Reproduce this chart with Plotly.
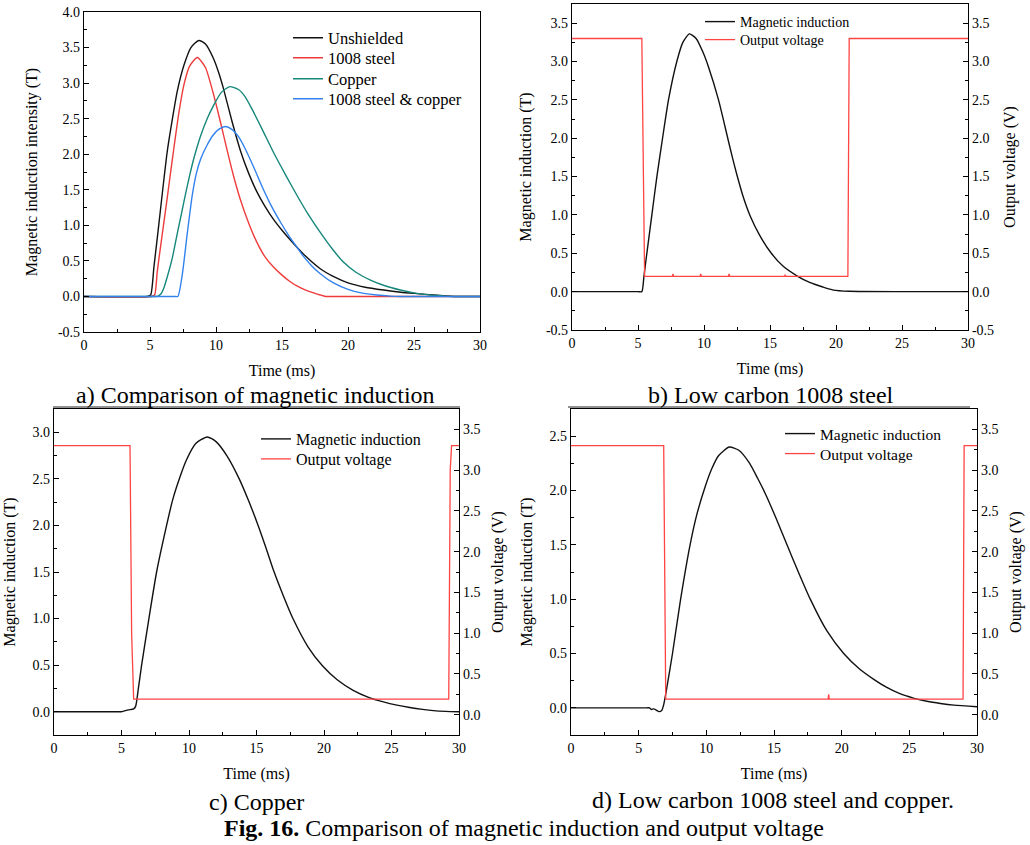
import plotly.graph_objects as go

W, H = 1030, 845
FONT = "Liberation Serif"

# ---------------- data ----------------
# Panel a: comparison of magnetic induction (T) vs time (ms)
a_unsh_t = [0, 4.8, 5.05, 5.3, 5.6, 6.0, 6.3, 6.7, 7.06, 7.57, 8.1, 8.7, 9.2, 9.8, 10.2, 10.54, 11.2, 11.85, 12.5, 13.1, 13.7, 14.37, 15.0, 15.6, 16.6, 17.9, 19.0, 20.0, 21.3, 22.7, 24.0, 25.2, 26.5, 28.0, 30]
a_unsh_v = [0, 0, 0.02, 0.42, 0.9, 1.56, 2.03, 2.5, 2.88, 3.25, 3.5, 3.6, 3.55, 3.35, 3.15, 2.94, 2.47, 2.05, 1.72, 1.47, 1.27, 1.08, 0.93, 0.8, 0.6, 0.39, 0.27, 0.19, 0.13, 0.09, 0.06, 0.04, 0.02, 0.0, 0.0]
a_steel_t = [0, 5.1, 5.35, 5.55, 5.8, 6.3, 6.76, 7.2, 7.6, 8.0, 8.58, 9.2, 9.8, 10.34, 10.85, 11.35, 11.85, 12.5, 13.1, 13.7, 14.37, 15.0, 15.6, 16.2, 16.8, 17.4, 17.9, 18.3, 19.0, 30]
a_steel_v = [0, 0, 0.02, 0.35, 0.7, 1.38, 2.02, 2.6, 3.0, 3.24, 3.36, 3.22, 2.85, 2.45, 2.05, 1.68, 1.36, 1.02, 0.76, 0.56, 0.41, 0.3, 0.21, 0.14, 0.09, 0.05, 0.02, 0.0, 0.0, 0.0]
a_cu_t = [0, 5.3, 5.55, 5.8, 6.05, 6.3, 6.7, 7.06, 7.4, 7.69, 8.0, 8.32, 8.8, 9.33, 9.8, 10.4, 11.04, 11.7, 12.2, 12.74, 13.5, 14.37, 15.3, 16.14, 17.0, 17.9, 18.8, 19.67, 20.6, 21.7, 22.8, 23.96, 25.0, 26.0, 27.0, 27.8, 30]
a_cu_v = [0, 0, 0.0, 0.03, 0.12, 0.27, 0.55, 0.88, 1.18, 1.44, 1.7, 1.94, 2.24, 2.5, 2.68, 2.87, 2.95, 2.91, 2.81, 2.63, 2.35, 2.02, 1.7, 1.42, 1.15, 0.9, 0.67, 0.48, 0.34, 0.23, 0.15, 0.09, 0.05, 0.025, 0.01, 0.0, 0.0]
a_both_t = [0, 6.8, 7.11, 7.44, 7.82, 8.2, 8.5, 8.83, 9.33, 9.79, 10.2, 10.72, 11.2, 11.73, 12.23, 12.9, 13.6, 14.2, 14.9, 15.5, 16.1, 16.6, 17.2, 17.9, 18.9, 20.0, 21.0, 22.2, 23.2, 24.0, 30]
a_both_v = [0, 0, 0.0, 0.3, 0.88, 1.42, 1.72, 1.93, 2.13, 2.27, 2.35, 2.39, 2.35, 2.24, 2.07, 1.8, 1.5, 1.27, 1.04, 0.86, 0.7, 0.57, 0.44, 0.32, 0.19, 0.1, 0.05, 0.02, 0.005, 0.0, 0.0]

# Panel b: low carbon 1008 steel
b_mag_t = [0, 5.0, 5.29, 5.45, 5.67, 6.05, 6.43, 6.86, 7.31, 7.94, 8.4, 8.9, 9.4, 9.9, 10.34, 11.1, 11.8, 12.15, 12.48, 13.0, 13.49, 14.2, 15.1, 16.0, 17.1, 18.0, 19.0, 19.8, 21.0, 25.0, 30]
b_mag_v = [0, 0, 0.0, 0.2, 0.5, 1.0, 1.5, 2.0, 2.5, 3.0, 3.25, 3.36, 3.3, 3.13, 2.93, 2.5, 2.0, 1.75, 1.53, 1.22, 0.99, 0.74, 0.5, 0.33, 0.2, 0.12, 0.06, 0.02, 0.005, 0.0, 0.0]
b_volt_t = [0, 5.29, 5.5, 7.6, 7.65, 7.7, 9.7, 9.75, 9.8, 11.85, 11.9, 11.95, 16.1, 16.15, 16.2, 20.9, 21.0, 30]
b_volt_v = [3.3, 3.3, 0.2, 0.2, 0.23, 0.2, 0.2, 0.23, 0.2, 0.2, 0.23, 0.2, 0.2, 0.22, 0.2, 0.2, 3.3, 3.3]

# Panel c: copper
c_mag_t = [0, 4.8, 5.0, 5.5, 5.9, 6.05, 6.25, 6.49, 7.03, 7.6, 8.34, 8.8, 9.33, 9.8, 10.5, 11.35, 12.0, 12.8, 13.72, 14.4, 15.12, 15.7, 16.28, 17.0, 17.7, 18.8, 19.9, 21.0, 22.16, 23.3, 24.4, 25.4, 26.35, 27.3, 28.1, 29.0, 30]
c_mag_v = [0, 0, 0.0, 0.02, 0.03, 0.06, 0.25, 0.5, 1.0, 1.5, 2.0, 2.28, 2.52, 2.7, 2.88, 2.95, 2.9, 2.75, 2.5, 2.27, 2.0, 1.76, 1.51, 1.24, 1.0, 0.7, 0.49, 0.34, 0.23, 0.155, 0.105, 0.07, 0.045, 0.025, 0.012, 0.004, 0.0]
c_volt_t = [0, 5.63, 5.75, 5.9, 29.24, 29.35, 29.45, 30]
c_volt_v = [3.3, 3.3, 1.0, 0.19, 0.19, 3.0, 3.3, 3.3]

# Panel d: low carbon 1008 steel and copper
d_mag_t = [0, 5.6, 5.8, 5.95, 6.1, 6.3, 6.5, 6.7, 6.85, 7.1, 7.5, 8.1, 8.8, 9.3, 9.9, 10.4, 10.9, 11.7, 12.4, 13.2, 13.8, 14.36, 15.1, 15.96, 16.8, 17.68, 18.9, 20.15, 21.3, 22.4, 23.3, 24.3, 25.3, 26.3, 27.3, 28.3, 30]
d_mag_v = [0, 0, 0, -0.015, -0.01, -0.02, -0.035, -0.025, 0.03, 0.2, 0.5, 1.0, 1.5, 1.78, 2.03, 2.2, 2.32, 2.4, 2.37, 2.25, 2.11, 1.97, 1.76, 1.5, 1.25, 1.0, 0.71, 0.5, 0.36, 0.26, 0.19, 0.13, 0.09, 0.06, 0.04, 0.025, 0.01]
d_volt_t = [0, 6.85, 7.0, 19.0, 19.04, 19.08, 28.97, 29.05, 30]
d_volt_v = [3.3, 3.3, 0.19, 0.19, 0.25, 0.19, 0.19, 3.3, 3.3]

x_ticks = [0, 5, 10, 15, 20, 25, 30]
x_minor = [2.5, 7.5, 12.5, 17.5, 22.5, 27.5]
ya_ticks = [-0.5, 0.0, 0.5, 1.0, 1.5, 2.0, 2.5, 3.0, 3.5, 4.0]
yb_ticks = [-0.5, 0.0, 0.5, 1.0, 1.5, 2.0, 2.5, 3.0, 3.5]
yc_ticks = [0.0, 0.5, 1.0, 1.5, 2.0, 2.5, 3.0]
yd_ticks = [0.0, 0.5, 1.0, 1.5, 2.0, 2.5]
yv_ticks = [0.0, 0.5, 1.0, 1.5, 2.0, 2.5, 3.0, 3.5]

C_BLACK = "#111111"
C_RED = "#ee3b3b"
C_TEAL = "#16877b"
C_BLUE = "#3282ee"
C_VOLT = "#ff4444"


def fmt(v):
    return "%.1f" % v


def minor_of(ticks, lo, hi):
    out = []
    v = lo
    while v <= hi + 1e-9:
        if all(abs(v - t) > 1e-6 for t in ticks):
            out.append(round(v, 3))
        v += 0.25
    return out


def px(x):
    return x / W


def py(y):
    return 1 - y / H


fig = go.Figure()

SPL = dict(shape="spline", smoothing=0.6, width=1.4)
LIN = dict(width=1.3)

# (x, y, name, colour, line style, xaxis, yaxis, legend id)
traces = [
    (a_unsh_t, a_unsh_v, "Unshielded", C_BLACK, SPL, "x", "y", "legend"),
    (a_steel_t, a_steel_v, "1008 steel", C_RED, SPL, "x", "y", "legend5"),
    (a_cu_t, a_cu_v, "Copper", C_TEAL, SPL, "x", "y", "legend6"),
    (a_both_t, a_both_v, "1008 steel & copper", C_BLUE, SPL, "x", "y", "legend7"),
    (b_volt_t, b_volt_v, "Output voltage", C_VOLT, LIN, "x2", "y3", "legend8"),
    (b_mag_t, b_mag_v, "Magnetic induction", C_BLACK, SPL, "x2", "y2", "legend2"),
    (c_volt_t, c_volt_v, "Output voltage", C_VOLT, LIN, "x3", "y5", "legend9"),
    (c_mag_t, c_mag_v, "Magnetic induction", C_BLACK, SPL, "x3", "y4", "legend3"),
    (d_volt_t, d_volt_v, "Output voltage", C_VOLT, LIN, "x4", "y7", "legend10"),
    (d_mag_t, d_mag_v, "Magnetic induction", C_BLACK, SPL, "x4", "y6", "legend4"),
]
for x, y, name, col, st, xa_, ya_, lg in traces:
    fig.add_trace(go.Scatter(x=x, y=y, mode="lines", name=name, line=dict(color=col, **st),
                             xaxis=xa_, yaxis=ya_, legend=lg))

AX = dict(showline=True, linecolor="black", linewidth=1.3, showgrid=False, zeroline=False,
          ticks="inside", ticklen=5, tickwidth=1, tickcolor="black",
          tickfont=dict(family=FONT, size=14, color="black"), automargin=False)
TFONT = dict(family=FONT, size=16, color="black")


def xax(dom, anchor):
    d = dict(AX)
    d.update(domain=dom, anchor=anchor, range=[0, 30], mirror=True,
             tickmode="array", tickvals=x_ticks, ticktext=[str(t) for t in x_ticks],
             minor=dict(tickmode="array", tickvals=x_minor, ticks="inside", ticklen=3, tickcolor="black"),
             title=dict(text="Time (ms)", font=TFONT, standoff=12))
    return d


def yax(dom, anchor, rng, ticks, title, side="left", overlay=None, mirror=True, standoff=12):
    d = dict(AX)
    d.update(domain=dom, anchor=anchor, range=rng, side=side, mirror=mirror,
             tickmode="array", tickvals=ticks, ticktext=[fmt(t) for t in ticks],
             minor=dict(tickmode="array", tickvals=minor_of(ticks, rng[0], rng[1]), ticks="inside",
                        ticklen=3, tickcolor="black"),
             title=dict(text=title, font=TFONT, standoff=standoff))
    if overlay:
        d["overlaying"] = overlay
    return d


xa = [px(84), px(480)]; ya = [py(332), py(12)]
xb = [px(572), px(968)]; yb = [py(330), py(4)]
xc = [px(54), px(459)]; yc = [py(735), py(409)]
xd = [px(571), px(977)]; yd = [py(735), py(409)]

fig.update_layout(
    width=W, height=H, margin=dict(l=0, r=0, t=0, b=0),
    paper_bgcolor="white", plot_bgcolor="white",
    font=dict(family=FONT, color="black"),
    xaxis=xax(xa, "y"),
    yaxis=yax(ya, "x", [-0.5, 4.0], ya_ticks, "Magnetic induction intensity (T)", standoff=16),
    xaxis2=xax(xb, "y2"),
    yaxis2=yax(yb, "x2", [-0.5, 3.75], yb_ticks, "Magnetic induction (T)", mirror=False, standoff=10),
    yaxis3=yax(yb, "x2", [-0.5, 3.75], yb_ticks, "Output voltage (V)", side="right", overlay="y2", mirror=False, standoff=10),
    xaxis3=xax(xc, "y4"),
    yaxis4=yax(yc, "x3", [-0.25, 3.25], yc_ticks, "Magnetic induction (T)", mirror=False, standoff=12),
    yaxis5=yax(yc, "x3", [-0.25, 3.75], yv_ticks, "Output voltage (V)", side="right", overlay="y4", mirror=False, standoff=12),
    xaxis4=xax(xd, "y6"),
    yaxis6=yax(yd, "x4", [-0.25, 2.75], yd_ticks, "Magnetic induction (T)", mirror=False, standoff=12),
    yaxis7=yax(yd, "x4", [-0.25, 3.75], yv_ticks, "Output voltage (V)", side="right", overlay="y6", mirror=False, standoff=12),
    showlegend=True,
)


def leg(xl, yc_, size):
    return dict(bgcolor="rgba(0,0,0,0)", borderwidth=0, xanchor="left", yanchor="middle",
                x=px(xl), y=py(yc_), font=dict(family=FONT, size=size, color="black"))


fig.update_layout(
    legend=leg(288, 38, 16.5), legend5=leg(288, 58, 16.5), legend6=leg(288, 79, 16.5), legend7=leg(288, 99, 16.5),
    legend2=leg(700, 22, 14), legend8=leg(700, 40, 14),
    legend3=leg(256, 439, 16), legend9=leg(256, 459, 16),
    legend4=leg(780, 434, 15.5), legend10=leg(780, 454, 15.5),
)

caps = [
    ("a) Comparison of magnetic induction", 255, 395),
    ("b) Low carbon 1008 steel", 771, 395),
    ("c) Copper", 256, 802),
    ("d) Low carbon 1008 steel and copper.", 773, 800),
    ("<b>Fig. 16.</b> Comparison of magnetic induction and output voltage", 524, 828),
]
for txt, cx, cy in caps:
    fig.add_annotation(text=txt, x=px(cx), y=py(cy), xref="paper", yref="paper",
                       xanchor="center", yanchor="middle", showarrow=False,
                       font=dict(family=FONT, size=24, color="black"))

for x0, x1 in [(53, 460), (568, 970)]:
    fig.add_shape(type="line", xref="paper", yref="paper", x0=px(x0), x1=px(x1), y0=py(407), y1=py(407),
                  line=dict(color="#222222", width=1))

fig.write_html("out.html")
